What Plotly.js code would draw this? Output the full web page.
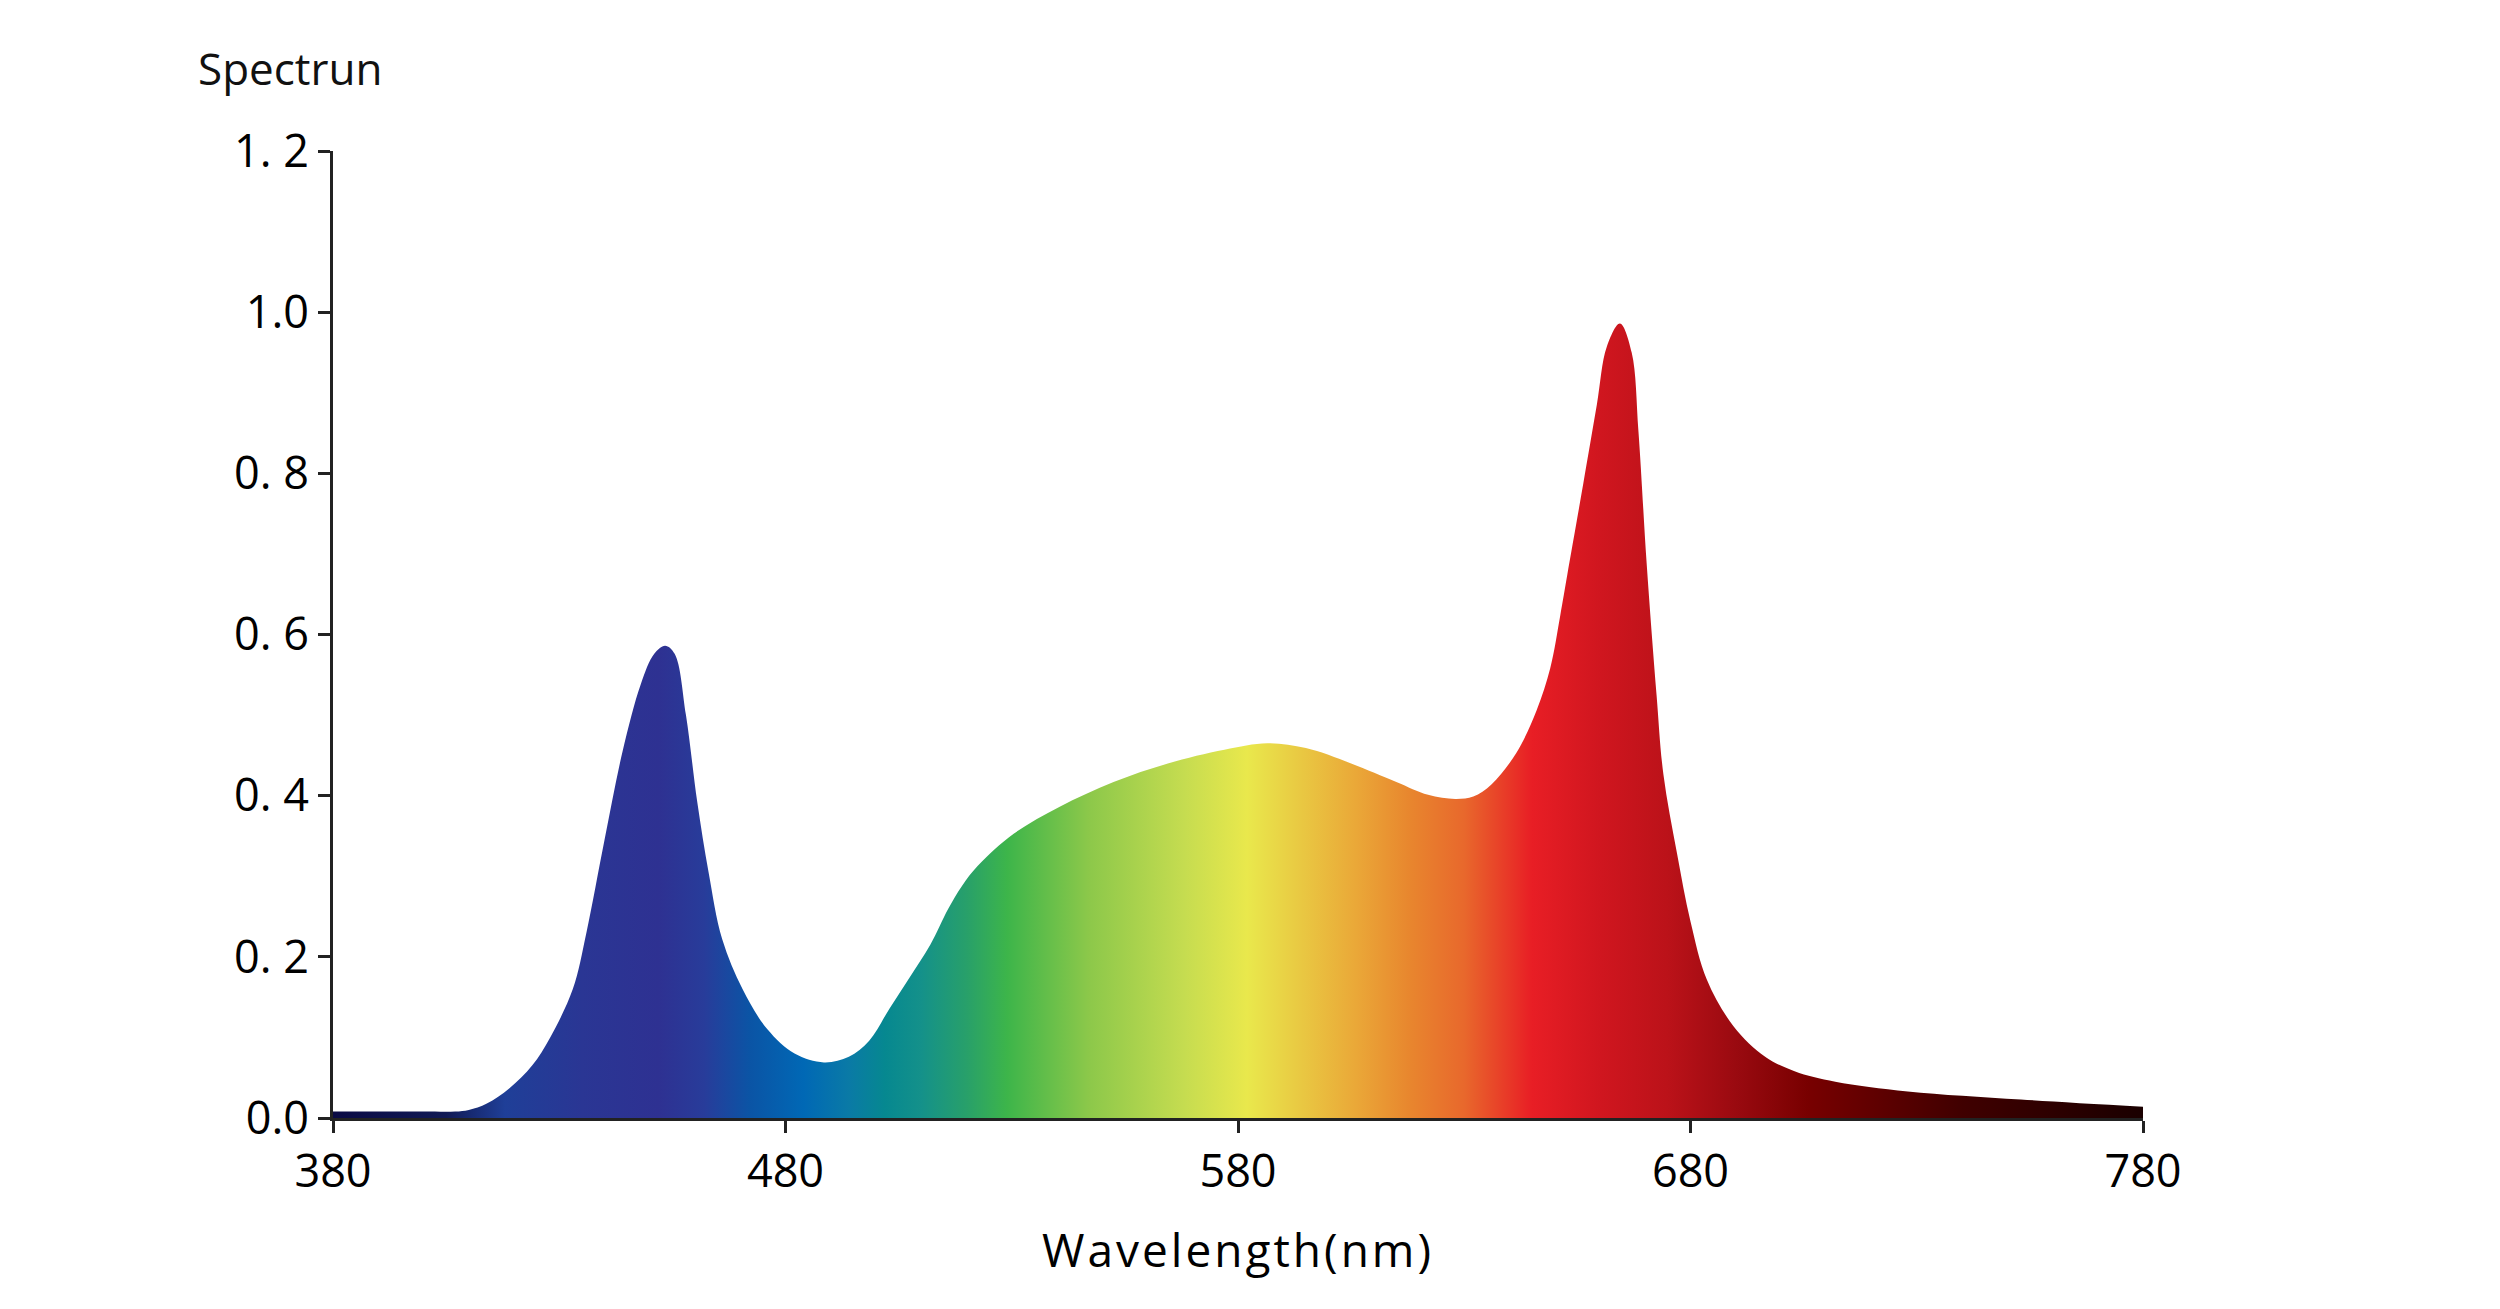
<!DOCTYPE html>
<html>
<head>
<meta charset="utf-8">
<script src="https://cdn.plot.ly/plotly-3.0.1.min.js"></script>
<style>
  html, body { margin: 0; padding: 0; background: #fff; }
  #spectrum { width: 2500px; height: 1309px; }
  /* the axis title in the picture is spaced out a little */
  #spectrum .g-xtitle text { letter-spacing: 3px; }
</style>
</head>
<body>
<div id="spectrum"></div>
<script>
// Spectrum curve
const wavelength = [
  380, 390, 400, 407, 410, 414, 419, 424, 428, 433, 436, 440, 444, 448, 451,
  453.4, 455.5, 458, 460.5, 463, 466, 470.5, 476, 482, 488.5, 494, 498.5, 503,
  507.5, 512, 516, 519, 522.5, 530.5, 540.5, 552.5, 564.5, 577, 586.5, 595, 605,
  615, 622, 628, 632, 636, 641.5, 646, 649, 651.2, 652.8, 656.3, 659.3, 661.5,
  664.4, 667, 668.5, 670.3, 672.5, 674, 677, 680, 683.6, 689.5, 696.5, 703, 712,
  728, 753, 780,
];
const intensity = [
  0.008, 0.008, 0.008, 0.008, 0.01, 0.018, 0.037, 0.065, 0.1, 0.16, 0.23, 0.345,
  0.455, 0.538, 0.576, 0.586, 0.576, 0.5, 0.392, 0.305, 0.222, 0.16, 0.11, 0.08,
  0.069, 0.076, 0.096, 0.136, 0.175, 0.215, 0.26, 0.288, 0.313, 0.353, 0.386,
  0.417, 0.44, 0.457, 0.465, 0.459, 0.44, 0.417, 0.401, 0.396, 0.399, 0.414,
  0.453, 0.506, 0.558, 0.623, 0.675, 0.787, 0.885, 0.957, 0.986, 0.95, 0.852,
  0.689, 0.525, 0.427, 0.329, 0.244, 0.172, 0.114, 0.076, 0.058, 0.045, 0.033,
  0.023, 0.014,
];

// Colour of the fill at each wavelength
const colorStops = [380, 405, 418, 435, 452, 462, 472, 484, 494, 502, 510, 520, 529, 547, 568, 582, 594, 606, 618, 630, 645, 660, 675, 690, 706, 740, 780];
const stopColors = [
  "#0b0b45", "#111a55", "#1f3f98", "#2a3694", "#2e3192", "#283c9a", "#0b54a5",
  "#0068b5", "#0a7aa6", "#068890", "#14918a", "#28a06a", "#3db54a", "#8cc84a",
  "#c5dc50", "#e9e84c", "#e9c842", "#eaa838", "#e8862e", "#e8682c", "#e81e25",
  "#d0161f", "#bb1219", "#9a0a10", "#780000", "#400000", "#1a0000",
];

const xTicks = [380, 480, 580, 680, 780];
const yTicks = [0, 0.2, 0.4, 0.6, 0.8, 1.0, 1.2];
const yTickText = ["0.0", "0. 2", "0. 4", "0. 6", "0. 8", "1.0", "1. 2"];

const fontFamily = "Open Sans, sans-serif";
const lo = colorStops[0];
const hi = colorStops[colorStops.length - 1];

const spectrum = {
  type: "scatter",
  x: wavelength,
  y: intensity,
  mode: "lines",
  line: { width: 0, shape: "spline", smoothing: 1 },
  fill: "tozeroy",
  fillgradient: {
    type: "horizontal",
    start: lo,
    stop: hi,
    colorscale: colorStops.map((w, i) => [(w - lo) / (hi - lo), stopColors[i]]),
  },
  hoverinfo: "x+y",
};

const axisStyle = {
  showline: true,
  linecolor: "#222",
  linewidth: 3,
  ticks: "outside",
  ticklen: 12,
  tickwidth: 3,
  tickcolor: "#222",
  showgrid: false,
  zeroline: false,
  tickfont: { family: fontFamily, size: 45, color: "#000" },
};

const layout = {
  width: 2500,
  height: 1309,
  margin: { t: 151, r: 357, b: 191, l: 333 },
  paper_bgcolor: "#fff",
  plot_bgcolor: "#fff",
  showlegend: false,
  title: {
    text: "Spectrun",
    font: { family: fontFamily, size: 44, color: "#111" },
    xref: "container",
    yref: "container",
    x: 198 / 2500,
    xanchor: "left",
    y: 1 - 70 / 1309,
    yanchor: "middle",
  },
  xaxis: Object.assign({}, axisStyle, {
    range: [380, 780],
    tickvals: xTicks,
    title: {
      text: "Wavelength(nm)",
      font: { family: fontFamily, size: 46, color: "#000" },
      standoff: 36,
    },
  }),
  yaxis: Object.assign({}, axisStyle, {
    range: [0, 1.2],
    tickvals: yTicks,
    ticktext: yTickText,
  }),
};

Plotly.newPlot("spectrum", [spectrum], layout, { displayModeBar: false });
</script>
</body>
</html>
